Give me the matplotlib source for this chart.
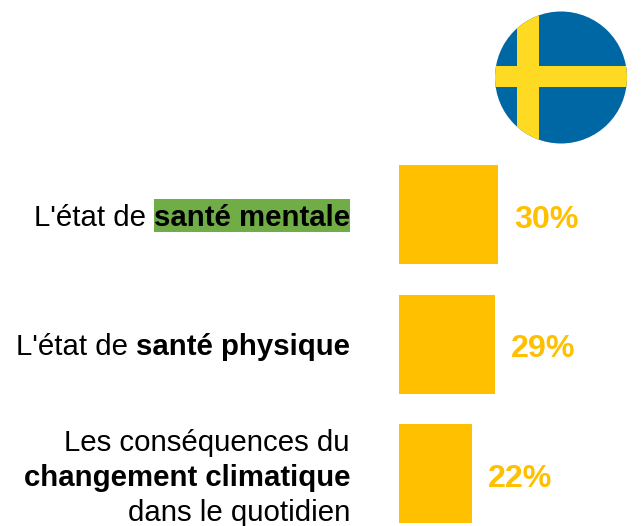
import matplotlib
matplotlib.use("Agg")
import matplotlib.pyplot as plt
from matplotlib.patches import Circle, Rectangle

W, H = 641, 526
values = [30, 29, 22]
value_labels = ["30%", "29%", "22%"]
label_lines = [
    [[("L'état de ", "normal"), ("santé mentale", "bold")]],
    [[("L'état de ", "normal"), ("santé physique", "bold")]],
    [[("Les conséquences du", "normal")],
     [("changement climatique", "bold")],
     [("dans le quotidien", "normal")]],
]

plt.rcParams["font.family"] = ["Liberation Sans", "DejaVu Sans"]
YELLOW = "#FFC000"
GREEN = "#70AD47"


def px_axes(fig, x0, y0, x1, y1):
    # pixel box measured from the top left corner
    return fig.add_axes([x0 / W, 1 - y1 / H, (x1 - x0) / W, (y1 - y0) / H])


fig = plt.figure(figsize=(W / 100, H / 100), dpi=100)

# bars, 3.3 px per percent, rows 129.5 px apart
ax = px_axes(fig, 399, 150, 640, 526)
ax.set_xlim(0, 241 / 3.3)
ax.set_ylim(2 + 52.5 / 129.5, -64.5 / 129.5)
ax.axis("off")
rows = range(len(values))
ax.barh(rows, values, height=99 / 129.5, color=YELLOW)
for i in rows:
    ax.annotate(value_labels[i], (values[i], i), xytext=(16, -5), textcoords="offset pixels",
                ha="left", va="center", color=YELLOW, fontsize=23.2, fontweight="bold")

# labels
bg = fig.add_axes([0, 0, 1, 1], zorder=-1)
bg.set_xlim(0, W)
bg.set_ylim(H, 0)
bg.axis("off")
bg.add_patch(Rectangle((154, 199), 196, 33, color=GREEN, lw=0))

centers = [218, 347, 478]
line_gap = 35
renderer = fig.canvas.get_renderer()
for lines, yc in zip(label_lines, centers):
    start = yc - line_gap * (len(lines) - 1) / 2
    for k, parts in enumerate(lines):
        x = 350
        for txt, weight in reversed(parts):
            t = bg.text(x, start + k * line_gap, txt.rstrip(), ha="right", va="center",
                        fontsize=21.2, fontweight=weight, color="black")
            x = t.get_window_extent(renderer).x0 - 8

# flag
flag = px_axes(fig, 490, 7, 632, 149)
flag.set_xlim(490, 632)
flag.set_ylim(149, 7)
flag.set_aspect("equal")
flag.axis("off")
disc = Circle((561, 77.5), 66, color="#0067A5", lw=0)
flag.add_patch(disc)
for r in [Rectangle((517, 7), 22, 142, color="#FFDA22", lw=0),
          Rectangle((490, 66), 142, 21, color="#FFDA22", lw=0)]:
    flag.add_patch(r)
    r.set_clip_path(disc)

fig.savefig("out.png", dpi=100)
